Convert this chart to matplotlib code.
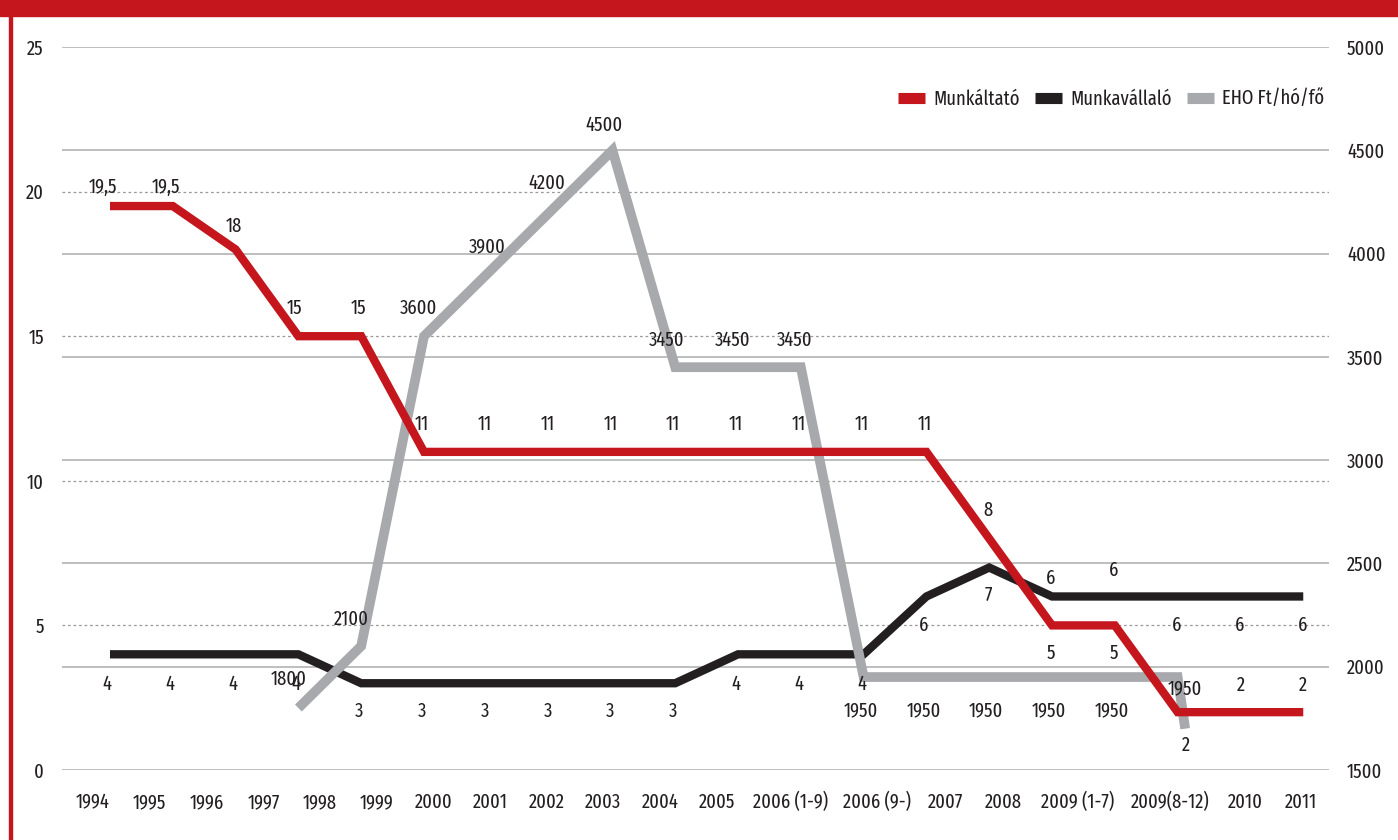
import matplotlib
matplotlib.use("Agg")
import matplotlib.pyplot as plt
from matplotlib.lines import Line2D
from matplotlib.patches import Rectangle

plt.rcParams['font.family'] = ['Fira Sans Extra Condensed', 'DejaVu Sans']
plt.rcParams['font.weight'] = 'normal'

# ---------------- data ----------------
categories = ["1994", "1995", "1996", "1997", "1998", "1999", "2000", "2001", "2002",
              "2003", "2004", "2005", "2006 (1-9)", "2006 (9-)", "2007", "2008",
              "2009 (1-7)", "2009(8-12)", "2010", "2011"]
munkaltato = [19.5, 19.5, 18, 15, 15, 11, 11, 11, 11, 11, 11, 11, 11, 11, 8, 5, 5, 2, 2, 2]
munkavallalo = [4, 4, 4, 4, 3, 3, 3, 3, 3, 3, 4, 4, 4, 6, 7, 6, 6, 6, 6, 6]
eho_start = 3
eho = [1800, 2100, 3600, 3900, 4200, 4500, 3450, 3450, 3450, 1950, 1950, 1950, 1950, 1950, 1950]
eho_tail_pos = 17.12
eho_tail_value = 1700
left_ticks = [0, 5, 10, 15, 20, 25]
right_ticks = [1500, 2000, 2500, 3000, 3500, 4000, 4500, 5000]
series_names = ["Munkáltató", "Munkavállaló", "EHO Ft/hó/fő"]

# ---------------- layout / style ----------------
RED = "#C4161C"
BLACK = "#231F20"
GRAY = "#A7A9AC"
TXT = "#231F20"
W, H = 1398, 840
FS = 14.5

# tick label positions along the category axis (as laid out in the original)
label_pos = [-0.27, 0.62, 1.54, 2.45, 3.34, 4.25, 5.16, 6.05, 6.96, 7.85, 8.76, 9.67,
             10.83, 12.21, 13.31, 14.22, 15.40, 16.88, 18.07, 18.96]

# data label offsets in pixels (dx, dy; dy positive = downward)
red_off = [(-7, -19), (-7, -19), (-2, -23), (-4, -28), (-3, -28)] + [(-2, -28)] * 9 + \
          [(-1, -28), (-1, 28), (-1, 28), (8, 33), (0, -27), (0, -27)]
black_off = [(-3, 30)] * 4 + [(-2, 28)] * 6 + [(-2, 30)] * 3 + \
            [(-3, 29), (-1, 27), (-1, -18), (-1, -26), (-1, 29), (-1, 29), (-1, 29)]
gray_off = [(-10, -29), (-10, -27), (-5, -28), (0, -28), (-3, -29), (-8, -25),
            (-9, -27), (-5, -27), (-6, -27)] + [(-3, 33)] * 5 + [(7, 11)]


def fmt(v):
    s = ("%g" % v)
    return s.replace(".", ",")


fig = plt.figure(figsize=(W / 100, H / 100), dpi=100)
ax = fig.add_axes([62 / W, (H - 770) / H, (1329 - 62) / W, (770 - 47) / H])
ax2 = ax.twinx()
ax.set_xlim(-0.764, 19.41)
ax.set_ylim(0, 25)
ax2.set_ylim(1500, 5000)

for a in (ax, ax2):
    for s in a.spines.values():
        s.set_visible(False)
    a.tick_params(length=0, labelsize=FS, colors=TXT)

# gridlines: dotted on left-axis ticks, solid on right-axis ticks
for v in left_ticks[1:-1]:
    ax.plot([0, 1], [v, v], transform=ax.get_yaxis_transform(), color="#9A9A9A",
            lw=0.9, ls=(0, (2.2, 2.2)), zorder=1)
for v in right_ticks:
    ax.plot([0, 1], [v, v], transform=ax2.get_yaxis_transform(), color="#BEBEBE",
            lw=1.4, zorder=1)

x_all = list(range(len(categories)))
cap = dict(solid_capstyle="butt", solid_joinstyle="miter")
ax.plot(x_all, munkavallalo, color=BLACK, lw=6.0, zorder=3, **cap)
gx = list(range(eho_start, eho_start + len(eho))) + [eho_tail_pos]
gy = eho + [eho_tail_value]
ax.plot(gx, gy, color=GRAY, lw=7.0, zorder=4, transform=ax2.transData, **cap)
ax.plot(x_all, munkaltato, color=RED, lw=6.0, zorder=5, **cap)

# data labels
for i, v in enumerate(munkaltato):
    dx, dy = red_off[i]
    ax.annotate(fmt(v), (i, v), xytext=(dx, -dy), textcoords="offset pixels",
                ha="center", va="center", fontsize=FS, color=TXT, zorder=6)
for i, v in enumerate(munkavallalo):
    dx, dy = black_off[i]
    ax.annotate(fmt(v), (i, v), xytext=(dx, -dy), textcoords="offset pixels",
                ha="center", va="center", fontsize=FS, color=TXT, zorder=6)
for k, v in enumerate(eho):
    dx, dy = gray_off[k]
    ax.annotate(fmt(v), (eho_start + k, v), xycoords=ax2.transData,
                xytext=(dx, -dy), textcoords="offset pixels",
                ha="center", va="center", fontsize=FS, color=TXT, zorder=6)

ax.set_xticks(label_pos)
ax.set_xticklabels(categories)
ax.tick_params(axis="x", pad=16)
ax.set_yticks(left_ticks)
ax.set_yticklabels([str(t) for t in left_ticks])
ax.tick_params(axis="y", pad=13)
ax2.set_yticks(right_ticks)
ax2.set_yticklabels([str(t) for t in right_ticks])
ax2.tick_params(axis="y", pad=13)
ax.set_xlim(-0.764, 19.41)
ax.set_ylim(0, 25)
ax2.set_ylim(1500, 5000)

# legend
handles = [Line2D([], [], color=c, lw=8, solid_capstyle="butt") for c in (RED, BLACK, GRAY)]
fig.legend(handles, series_names, ncol=3, loc="center right",
           bbox_to_anchor=(1324 / W, 1 - 99 / H), frameon=False, handlelength=1.35,
           handletextpad=0.4, columnspacing=0.75, borderpad=0, borderaxespad=0,
           fontsize=FS, labelcolor=TXT)

# frame decorations: red title band and left border
fig.patches.append(Rectangle((0, 1 - 16 / H), 1, 16 / H, transform=fig.transFigure,
                             color=RED, zorder=0))
fig.patches.append(Rectangle((9 / W, 0), 3 / W, 1, transform=fig.transFigure,
                             color=RED, zorder=0))

fig.savefig("out.png", dpi=100)
